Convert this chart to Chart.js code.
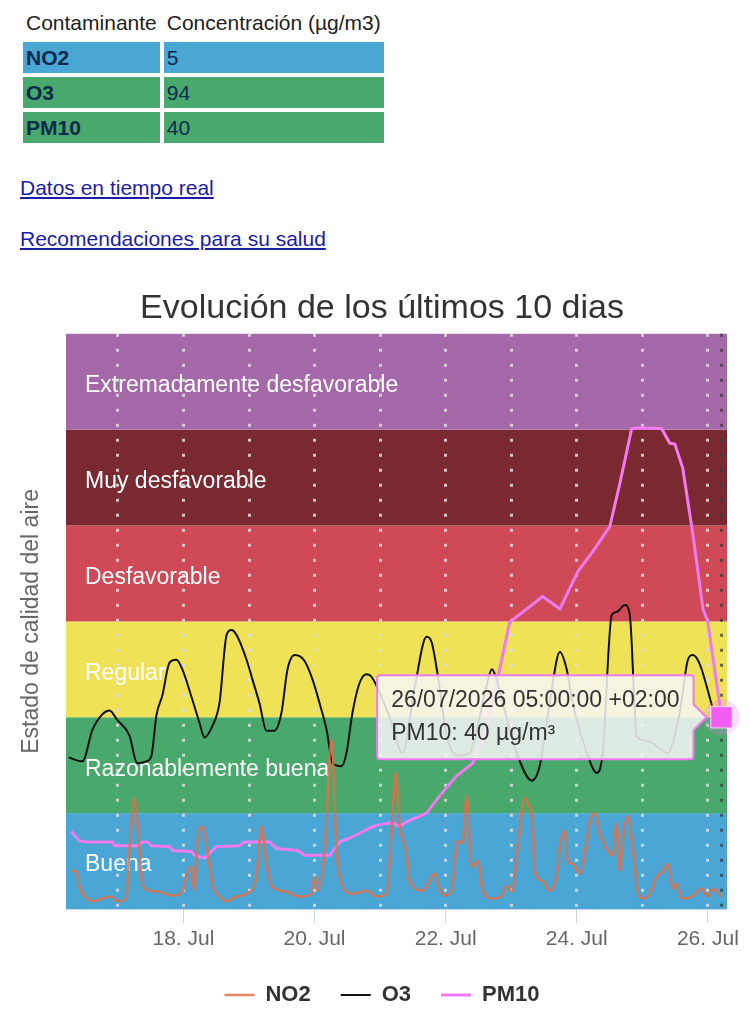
<!DOCTYPE html>
<html lang="es">
<head>
<meta charset="utf-8">
<title>Calidad del aire</title>
<script src="https://cdn.jsdelivr.net/npm/chart.js@4.4.1/dist/chart.umd.min.js"></script>
<style>
    body { margin: 0; width: 750px; height: 1024px; overflow: hidden; background: #fff;
           font-family: "Liberation Sans", Arial, sans-serif; }
    table { position: absolute; left: 19px; top: 4px; border-spacing: 4px; font-size: 21px; }
    th { font-weight: normal; text-align: left; color: #222; padding: 0 3px; height: 30px; white-space: nowrap; }
    td { height: 31px; padding: 0 3px; color: #0c2a4e; }
    td:first-child { width: 130px; font-weight: bold; }
    td:last-child { width: 213px; }
    .buena { background: #4aa7d4; }
    .razonable { background: #49a86b; }
    .links { position: absolute; left: 20px; top: 176px; }
    .links p { margin: 0 0 27px 0; line-height: 24px; font-size: 21px; }
    .links a { color: #1c1ca8; }
    #wrap { position: absolute; left: 0; top: 280px; width: 750px; height: 736px; }
</style>
</head>
<body>
<table>
    <tr><th>Contaminante</th><th>Concentración (µg/m3)</th></tr>
    <tr class="buena"><td>NO2</td><td>5</td></tr>
    <tr class="razonable"><td>O3</td><td>94</td></tr>
    <tr class="razonable"><td>PM10</td><td>40</td></tr>
</table>
<div class="links">
    <p><a href="#">Datos en tiempo real</a></p>
    <p><a href="#">Recomendaciones para su salud</a></p>
</div>
<div id="wrap"><canvas id="aireChart"></canvas></div>
<script>
// x values are hours counted from 16/07 00:00, y values are the air quality band index (0 = Buena ... 6)
const bandLabels = ['Buena', 'Razonablemente buena', 'Regular', 'Desfavorable', 'Muy desfavorable', 'Extremadamente desfavorable'];
const bandColors = ['#4aa7d5', '#49a86b', '#efe257', '#cf4a56', '#7a2931', '#a569aa'];
const pm10Limits = [0, 20, 40, 50, 100, 150, 1200];

const gridDays = [17, 18, 19, 20, 21, 22, 23, 24, 25, 26];
const labelDays = [18, 20, 22, 24, 26];

const no2Hours = [7, 8.8, 9.9, 12.8, 14.7, 18.3, 21.6, 23.8, 27.1, 28.2, 30, 31.9, 33, 35.5, 39.2, 44, 47.6, 49.5,
    50.9, 52, 53.1, 55, 56.8, 58.6, 61.2, 63.8, 67.4, 71.1, 74.7, 76.6, 78.4, 80.6, 85.7, 90.5, 94.9, 96, 97.1,
    99.7, 102.2, 104.1, 106.3, 109.9, 115, 118.7, 122.4, 124.2, 125.7, 127.1, 129.7, 130.8, 135.6, 137, 140,
    141.1, 143.6, 146.2, 148.4, 150.2, 151.7, 153.5, 155.7, 157.6, 160.9, 164.5, 166.3, 168.2, 170.4, 172.9,
    174, 175.9, 176.6, 179.5, 182.1, 184.7, 185.8, 187.6, 188.7, 190.5, 193.1, 195.7, 196.8, 198.6, 200.4,
    204.1, 205.2, 206.6, 207.7, 208.8, 210.7, 212.5, 214.3, 216.2, 218.7, 221.3, 223.5, 225.3, 227.2, 228.6,
    230.5, 234.1, 237.8, 240, 241.8, 245];
const no2Index = [0.40, 0.39, 0.23, 0.11, 0.08, 0.11, 0.13, 0.08, 0.11, 0.61, 1.16, 0.61, 0.26, 0.19, 0.18, 0.14,
    0.18, 0.39, 0.44, 0.19, 0.71, 0.86, 0.61, 0.26, 0.13, 0.08, 0.13, 0.16, 0.34, 0.86, 0.47, 0.23, 0.18, 0.13,
    0.16, 0.34, 0.19, 0.61, 1.76, 0.61, 0.23, 0.16, 0.19, 0.13, 0.16, 0.82, 1.42, 0.89, 0.58, 0.29, 0.19, 0.24,
    0.37, 0.26, 0.14, 0.19, 0.71, 0.68, 1.18, 0.44, 0.50, 0.19, 0.11, 0.14, 0.24, 0.18, 0.65, 1.16, 1.10, 0.87,
    0.40, 0.29, 0.19, 0.37, 0.65, 0.82, 0.50, 0.47, 0.37, 0.71, 0.92, 1.00, 0.79, 0.58, 0.56, 0.89, 0.40, 0.71,
    0.97, 0.65, 0.19, 0.11, 0.16, 0.34, 0.39, 0.47, 0.21, 0.26, 0.11, 0.13, 0.21, 0.13, 0.21, 0.13];

const o3Hours = [6, 11, 14.7, 18.3, 20.9, 23.8, 28.2, 31.1, 34.4, 36.3, 38.1, 40.3, 42.9, 45.4, 47.6, 51.3, 53.9,
    55.7, 58.6, 61.2, 63.8, 65.6, 67.4, 71.1, 73.3, 75.8, 78.4, 81.3, 83.9, 86.1, 88.7, 92.3, 95.3, 97.8, 100.4,
    102.6, 105.9, 107.7, 109.9, 112.5, 115, 116.9, 123.5, 128.2, 132.6, 137, 138.9, 141.1, 144.4, 149.1, 152.8,
    159, 160.9, 162.7, 164.9, 170, 175.5, 178.4, 182.1, 185.8, 188.3, 190.5, 195.7, 199.3, 201.5, 204.8, 206.7,
    209.6, 211.4, 214, 218, 225.3, 229.7, 232.7, 234.5, 237.1, 241.5];
const o3Index = [1.58, 1.54, 1.87, 2.03, 2.07, 1.97, 1.81, 1.52, 1.54, 1.60, 2.02, 2.23, 2.57, 2.60, 2.50, 2.18, 1.94,
    1.79, 1.91, 2.15, 2.86, 2.91, 2.86, 2.60, 2.39, 2.15, 1.86, 1.86, 2.05, 2.50, 2.65, 2.59, 2.39, 2.15, 1.87,
    1.52, 1.49, 1.63, 2.05, 2.36, 2.45, 2.42, 2.00, 1.63, 2.30, 2.84, 2.78, 2.44, 1.80, 1.60, 1.63, 2.33, 2.50,
    2.39, 2.15, 1.63, 1.34, 1.49, 2.15, 2.68, 2.50, 2.15, 1.63, 1.42, 1.63, 3.07, 3.10, 3.17, 3.07, 1.80, 1.75,
    1.63, 2.05, 2.60, 2.65, 2.55, 2.12];

const pm10Hours = [6.9, 9.9, 12.5, 22, 22.7, 31.1, 33, 34.8, 36.3, 42.9, 44, 50.9, 52, 55.7, 58.6, 60.1, 68.5, 70.3,
    79.5, 82.1, 89.8, 92.3, 101.5, 105.2, 108.8, 112.5, 117.2, 119.8, 124.6, 127.1, 129.7, 137, 141.8, 148,
    153.9, 159, 163.8, 167.4, 173.7, 179.5, 185.8, 192.4, 197.9, 204.1, 207.7, 212.1, 215.1, 223.1, 226, 227.9,
    230.8, 234.5, 238.2, 240, 245];
const pm10Index = [0.81, 0.71, 0.70, 0.70, 0.66, 0.66, 0.70, 0.70, 0.66, 0.65, 0.61, 0.60, 0.56, 0.53, 0.61, 0.65,
    0.66, 0.70, 0.70, 0.63, 0.61, 0.56, 0.56, 0.70, 0.74, 0.79, 0.86, 0.88, 0.90, 0.86, 0.91, 1.00, 1.18, 1.39,
    1.52, 1.90, 2.50, 2.99, 3.13, 3.26, 3.13, 3.52, 3.73, 3.99, 4.43, 5.01, 5.02, 5.01, 4.86, 4.85, 4.60, 3.91,
    3.13, 2.99, 2.00];

const fontFamily = '"Liberation Sans", Arial, sans-serif';
Chart.defaults.font.family = fontFamily;

function toPoints(hours, values) {
    return hours.map((h, i) => ({ x: h, y: values[i] }));
}

function pad2(n) {
    return String(n).padStart(2, '0');
}

// coloured quality bands with their names
const bandsPlugin = {
    id: 'bands',
    beforeDraw(chart) {
        const { ctx, chartArea: a, scales: { y } } = chart;
        ctx.save();
        bandColors.forEach((color, i) => {
            const top = y.getPixelForValue(i + 1);
            const bottom = y.getPixelForValue(i);
            ctx.fillStyle = color;
            ctx.fillRect(a.left, top, a.right - a.left, bottom - top);
            ctx.fillStyle = '#fff';
            ctx.font = '23px ' + fontFamily;
            ctx.textBaseline = 'middle';
            ctx.fillText(bandLabels[i], a.left + 19, (top + bottom) / 2 + 4);
        });
        ctx.restore();
    }
};

// crosshair and halo for the highlighted point
const hoverPlugin = {
    id: 'hoverMark',
    beforeDatasetsDraw(chart) {
        const active = chart.getActiveElements();
        if (!active.length) return;
        const { ctx, chartArea: a } = chart;
        const el = active[0].element;
        ctx.save();
        ctx.strokeStyle = 'rgba(60,60,60,0.75)';
        ctx.lineWidth = 3;
        ctx.setLineDash([3, 12]);
        ctx.beginPath();
        ctx.moveTo(el.x, a.top);
        ctx.lineTo(el.x, a.bottom);
        ctx.stroke();
        ctx.restore();
    },
    afterDatasetsDraw(chart) {
        const active = chart.getActiveElements();
        if (!active.length) return;
        const { ctx } = chart;
        const el = active[0].element;
        ctx.save();
        ctx.fillStyle = 'rgba(240,120,240,0.25)';
        ctx.beginPath();
        ctx.arc(el.x, el.y, 18, 0, Math.PI * 2);
        ctx.fill();
        ctx.restore();
        el.draw(ctx, chart.chartArea);
    }
};

const chart = new Chart(document.getElementById('aireChart'), {
    type: 'line',
    data: {
        datasets: [{
            label: 'NO2',
            data: toPoints(no2Hours, no2Index),
            borderColor: 'rgba(226,110,70,0.85)',
            backgroundColor: '#e5734b',
            borderWidth: 2.5,
            pointRadius: 0,
            pointHoverRadius: 0,
            cubicInterpolationMode: 'monotone'
        }, {
            label: 'O3',
            data: toPoints(o3Hours, o3Index),
            borderColor: '#111',
            backgroundColor: '#111',
            borderWidth: 2,
            pointRadius: 0,
            pointHoverRadius: 0,
            cubicInterpolationMode: 'monotone'
        }, {
            label: 'PM10',
            data: toPoints(pm10Hours, pm10Index),
            borderColor: '#f07af0',
            backgroundColor: '#f07af0',
            borderWidth: 3,
            tension: 0,
            pointStyle: 'rect',
            pointRadius: 0,
            pointHoverRadius: 15,
            pointHoverBackgroundColor: '#f25cf2',
            pointHoverBorderColor: 'rgba(255,255,255,0.6)',
            pointHoverBorderWidth: 1
        }]
    },
    options: {
        responsive: true,
        maintainAspectRatio: false,
        animation: false,
        events: [],
        layout: { padding: { left: 37, right: 23, top: 0, bottom: 0 } },
        scales: {
            x: {
                type: 'linear',
                min: 5,
                max: 247,
                afterBuildTicks(scale) {
                    scale.ticks = gridDays.map(d => ({ value: (d - 16) * 24 }));
                },
                afterFit(scale) {
                    scale.height = 45;
                },
                ticks: {
                    autoSkip: false,
                    maxRotation: 0,
                    color: '#666',
                    padding: 6,
                    font: { size: 21, lineHeight: 1 },
                    callback(value) {
                        const day = 16 + value / 24;
                        return labelDays.includes(day) ? day + '. Jul' : '';
                    }
                },
                grid: {
                    color: 'rgba(222,222,222,0.85)',
                    lineWidth: 3,
                    tickLength: 14,
                    tickWidth: 1,
                    tickColor: ctx => labelDays.includes(16 + ctx.tick.value / 24) ? '#ccd6eb' : 'rgba(0,0,0,0)'
                },
                border: { color: '#ccd6eb', width: 1, dash: [3, 12] }
            },
            y: {
                min: 0,
                max: 6,
                ticks: { display: false },
                grid: { display: false },
                border: { display: false },
                title: {
                    display: true,
                    text: 'Estado de calidad del aire',
                    color: '#666',
                    font: { size: 23 },
                    padding: { top: -19, bottom: 0 }
                },
                afterFit(scale) {
                    scale.width = 29;
                }
            }
        },
        plugins: {
            title: {
                display: true,
                text: 'Evolución de los últimos 10 dias',
                color: '#333',
                font: { size: 34, weight: 'normal' },
                padding: { top: 8, bottom: 5 }
            },
            legend: {
                position: 'bottom',
                labels: {
                    usePointStyle: true,
                    pointStyle: 'line',
                    pointStyleWidth: 30,
                    padding: 30,
                    color: '#333',
                    font: { size: 22, weight: 'bold' }
                }
            },
            tooltip: {
                backgroundColor: 'rgba(247,247,247,0.85)',
                borderColor: '#ef7bef',
                borderWidth: 2,
                cornerRadius: 3,
                padding: { left: 14, right: 14, top: 12, bottom: 12 },
                titleColor: '#333',
                bodyColor: '#333',
                titleFont: { size: 23, weight: 'normal' },
                bodyFont: { size: 23 },
                titleMarginBottom: 5,
                displayColors: false,
                xAlign: 'right',
                yAlign: 'center',
                caretSize: 13,
                caretPadding: 15,
                callbacks: {
                    title(items) {
                        const h = items[0].parsed.x;
                        const day = 16 + Math.floor(h / 24);
                        return pad2(day) + '/07/2026 ' + pad2(h % 24) + ':00:00 +02:00';
                    },
                    label(item) {
                        const v = item.parsed.y;
                        const band = Math.min(Math.floor(v), 5);
                        const conc = pm10Limits[band] + (v - band) * (pm10Limits[band + 1] - pm10Limits[band]);
                        return item.dataset.label + ': ' + Math.round(conc) + ' µg/m³';
                    }
                }
            }
        }
    },
    plugins: [bandsPlugin, hoverPlugin]
});

// show the last PM10 reading as in the original screenshot
const lastPm10 = { datasetIndex: 2, index: pm10Hours.length - 1 };
chart.setActiveElements([lastPm10]);
chart.tooltip.setActiveElements([lastPm10], { x: 0, y: 0 });
chart.render();
</script>
</body>
</html>
